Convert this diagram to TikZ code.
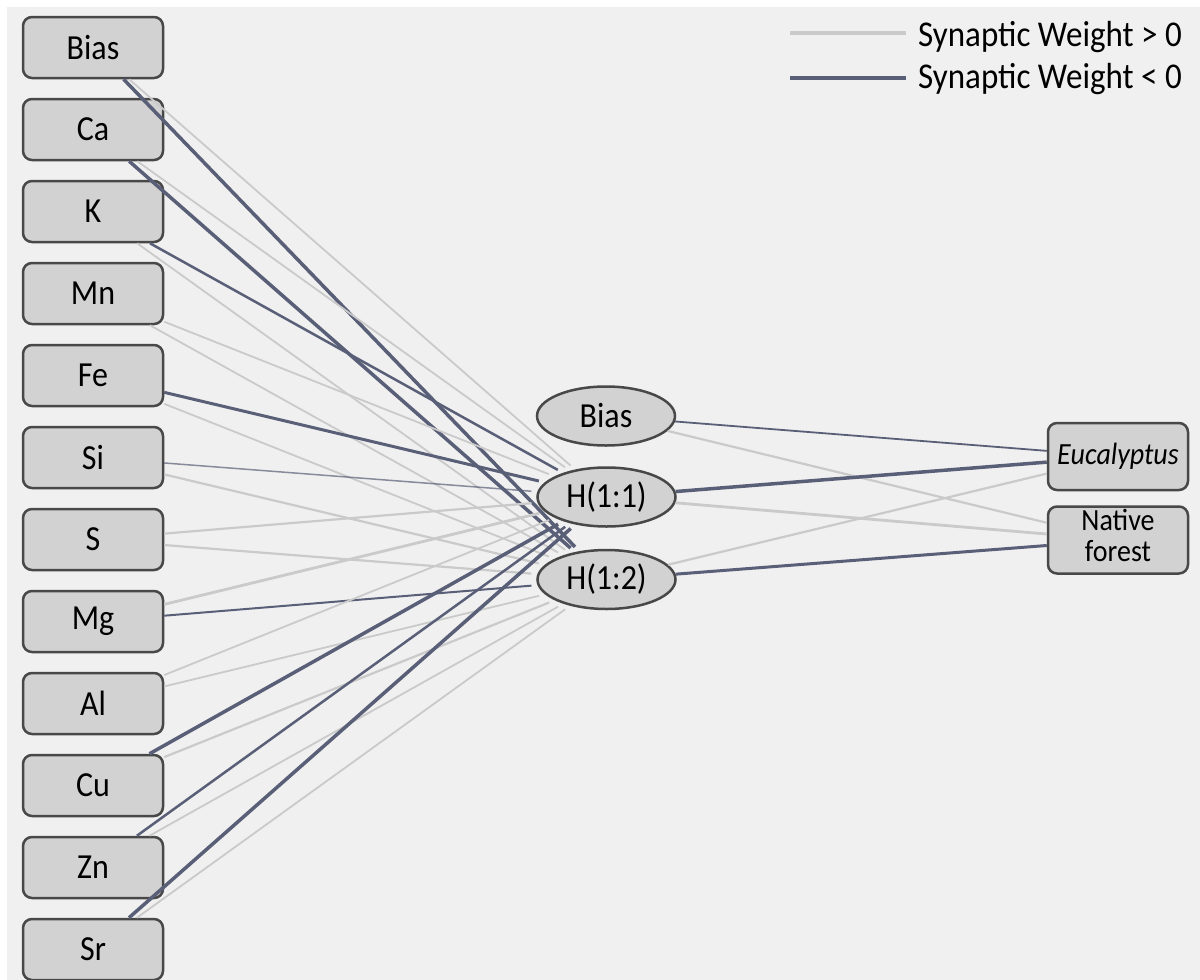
\documentclass[tikz,border=0pt]{standalone}
\usepackage{fontspec}
\setmainfont{Carlito}
\usetikzlibrary{shapes.geometric}
\definecolor{bgc}{HTML}{F0F0F0}
\definecolor{boxfill}{HTML}{D2D2D2}
\definecolor{boxline}{HTML}{484848}
\definecolor{poscol}{HTML}{CACACA}
\definecolor{negcol}{HTML}{5A5F78}
\newcommand{\vtxt}[1]{\scalebox{1}[1.1]{#1}}
\begin{document}
\begin{tikzpicture}[x=1pt,y=-1pt,
  inbox/.style={rectangle,rounded corners=9pt,draw=boxline,line width=2.5pt,fill=boxfill,
    minimum width=140pt,minimum height=61pt,inner sep=0pt,font=\fontsize{32}{34}\selectfont},
  hidnode/.style={ellipse,draw=boxline,line width=2.5pt,fill=boxfill,
    minimum width=138pt,minimum height=59pt,inner sep=0pt,font=\fontsize{32}{34}\selectfont},
  outbox/.style={rectangle,rounded corners=9pt,draw=boxline,line width=2.5pt,fill=boxfill,
    minimum width=140pt,minimum height=67pt,inner sep=0pt,align=center,
    font=\fontsize{28}{29}\selectfont},
  poswt/.style={draw=poscol},
  negwt/.style={draw=negcol},
  ihline/.style={shorten >=6pt},
  legtext/.style={anchor=west,inner sep=0pt,font=\fontsize{33}{35}\selectfont}
]
\useasboundingbox (0,0) rectangle (1200,980);
\fill[white] (0,0) rectangle (1200,980);
\fill[bgc] (7,7) rectangle (1200,980);

% input nodes
\node[inbox] (i0) at (93,47.5) {\vtxt{Bias}};
\node[inbox] (i1) at (93,129.5) {\vtxt{Ca}};
\node[inbox] (i2) at (93,211.5) {\vtxt{K}};
\node[inbox] (i3) at (93,293.5) {\vtxt{Mn}};
\node[inbox] (i4) at (93,375.5) {\vtxt{Fe}};
\node[inbox] (i5) at (93,457.5) {\vtxt{Si}};
\node[inbox] (i6) at (93,539.5) {\vtxt{S}};
\node[inbox] (i7) at (93,621.5) {\vtxt{Mg}};
\node[inbox] (i8) at (93,703.5) {\vtxt{Al}};
\node[inbox] (i9) at (93,785.5) {\vtxt{Cu}};
\node[inbox] (i10) at (93,867.5) {\vtxt{Zn}};
\node[inbox] (i11) at (93,949.5) {\vtxt{Sr}};

% hidden nodes
\node[hidnode] (hb) at (606,416) {\vtxt{Bias}};
\node[hidnode] (h1) at (606.5,497) {\vtxt{H(1:1)}};
\node[hidnode] (h2) at (606.5,579.5) {\vtxt{H(1:2)}};

% output nodes
\node[outbox] (oe) at (1118,456.5) {\vtxt{\itshape Eucalyptus}};
\node[outbox] (on) at (1118,540) {\vtxt{\begin{tabular}{@{}c@{}}Native\\[-1pt]forest\end{tabular}}};

% input -> hidden
\draw[poswt,ihline,line width=1.8pt] (i0) -- (h1);
\draw[negwt,ihline,line width=3.5pt] (i0) -- (h2);
\draw[poswt,ihline,line width=1.8pt] (i1) -- (h1);
\draw[negwt,ihline,line width=3.5pt] (i1) -- (h2);
\draw[negwt,ihline,line width=2.5pt] (i2) -- (h1);
\draw[poswt,ihline,line width=1.8pt] (i2) -- (h2);
\draw[poswt,ihline,line width=1.8pt] (i3) -- (h1);
\draw[poswt,ihline,line width=1.8pt] (i3) -- (h2);
\draw[negwt,ihline,line width=3pt] (i4) -- (h1);
\draw[poswt,ihline,line width=1.8pt] (i4) -- (h2);
\draw[negwt,ihline,line width=1.5pt,draw opacity=0.7] (i5) -- (h1);
\draw[poswt,ihline,line width=2.2pt] (i5) -- (h2);
\draw[poswt,ihline,line width=2.2pt] (i6) -- (h1);
\draw[poswt,ihline,line width=2.2pt] (i6) -- (h2);
\draw[poswt,ihline,line width=2.8pt] (i7) -- (h1);
\draw[negwt,ihline,line width=2pt] (i7) -- (h2);
\draw[poswt,ihline,line width=1.8pt] (i8) -- (h1);
\draw[poswt,ihline,line width=1.8pt] (i8) -- (h2);
\draw[negwt,ihline,line width=3.5pt] (i9) -- (h1);
\draw[poswt,ihline,line width=2.2pt] (i9) -- (h2);
\draw[negwt,ihline,line width=2.5pt] (i10) -- (h1);
\draw[poswt,ihline,line width=1.8pt] (i10) -- (h2);
\draw[negwt,ihline,line width=3.5pt] (i11) -- (h1);
\draw[poswt,ihline,line width=1.8pt] (i11) -- (h2);

% hidden -> output
\draw[negwt,line width=1.8pt] (hb) -- (oe);
\draw[poswt,line width=2.2pt] (hb) -- (on);
\draw[negwt,line width=3.5pt] (h1) -- (oe);
\draw[poswt,line width=2.8pt] (h1) -- (on);
\draw[poswt,line width=2.2pt] (h2) -- (oe);
\draw[negwt,line width=3pt] (h2) -- (on);

% legend
\coordinate (lpa) at (790,33);
\coordinate (lpb) at (906,33);
\coordinate (lna) at (790,78);
\coordinate (lnb) at (906,78);
\draw[poswt,line width=3.5pt] (lpa) -- (lpb);
\draw[negwt,line width=4pt] (lna) -- (lnb);
\node[legtext] (lt1) at (918,37) {\vtxt{Synaptic Weight > 0}};
\node[legtext] (lt2) at (918,79) {\vtxt{Synaptic Weight < 0}};
\end{tikzpicture}
\end{document}
